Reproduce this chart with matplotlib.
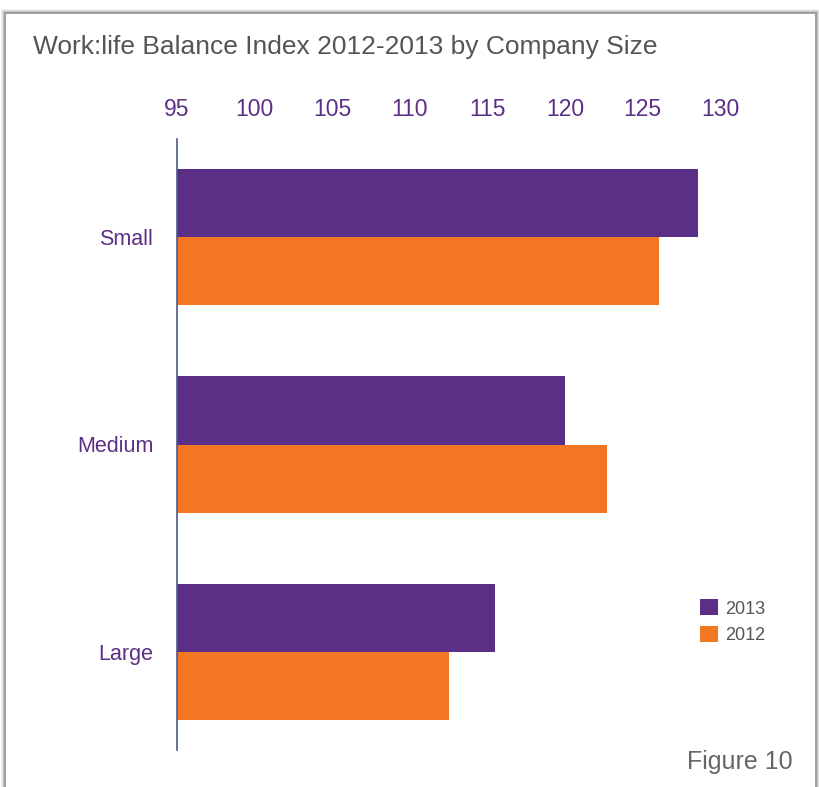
import numpy as np
import matplotlib.pyplot as plt
from matplotlib.patches import Rectangle

sizes = ["Small", "Medium", "Large"]
idx_2013 = [128.6, 120.0, 115.5]
idx_2012 = [126.1, 122.7, 112.5]
ticks = [95, 100, 105, 110, 115, 120, 125, 130]

purple = "#5c2f87"
orange = "#f37722"
grey = "#555555"

plt.rcParams['font.family'] = ['Liberation Sans', 'DejaVu Sans']

W, H = 819, 787
fig = plt.figure(figsize=(W / 100, H / 100), dpi=100)
fig.patch.set_facecolor("white")

# card with soft shadow
for i, a in enumerate([0.05, 0.08, 0.12, 0.18]):
    d = 4 - i
    fig.patches.append(Rectangle(((5 - d) / W, -0.05), (811 + 2 * d) / W, (H - 13 + d) / H + 0.05,
                                 transform=fig.transFigure, facecolor="black", alpha=a,
                                 edgecolor="none", zorder=0))
fig.patches.append(Rectangle((6 / W, -0.05), 809 / W, (H - 14) / H + 0.05,
                             transform=fig.transFigure, facecolor="white",
                             edgecolor="none", zorder=1))

ax = fig.add_axes([177 / W, 1 - 750 / H, 543 / W, (750 - 139) / H])
ax.set_facecolor("none")
ax.set_zorder(2)

y = np.arange(len(sizes))
h = 0.328
ax.barh(y - h / 2, np.array(idx_2013) - 95, height=h, left=95, color=purple, label="2013")
ax.barh(y + h / 2, np.array(idx_2012) - 95, height=h, left=95, color=orange, label="2012")

ax.set_xlim(95, 130)
ax.set_ylim(2.472, -0.472)
ax.xaxis.tick_top()
ax.set_xticks(ticks)
ax.set_xticklabels([str(t) for t in ticks])
ax.tick_params(axis="x", length=0, pad=13, labelsize=16.5, labelcolor=purple)
ax.set_yticks(y)
ax.set_yticklabels(sizes)
ax.tick_params(axis="y", length=0, pad=17, labelsize=15.5, labelcolor=purple)
for s in ["top", "right", "bottom"]:
    ax.spines[s].set_visible(False)
ax.spines["left"].set_color("#4a5a8a")
ax.spines["left"].set_linewidth(1.2)

leg = ax.legend(loc="upper left", bbox_to_anchor=(684 / W, 1 - 583 / H), bbox_transform=fig.transFigure,
                frameon=False, fontsize=13, handlelength=1.0, handleheight=1.0,
                handletextpad=0.35, labelspacing=0.45)
for t in leg.get_texts():
    t.set_color(grey)

fig.text(33 / W, 1 - 47 / H, "Work:life Balance Index 2012-2013 by Company Size",
         fontsize=19, color=grey, va="center", ha="left", zorder=3)
fig.text(793 / W, 1 - 762 / H, "Figure 10", fontsize=18, color="#666666",
         va="center", ha="right", zorder=3)

fig.savefig("out.png", dpi=100)
